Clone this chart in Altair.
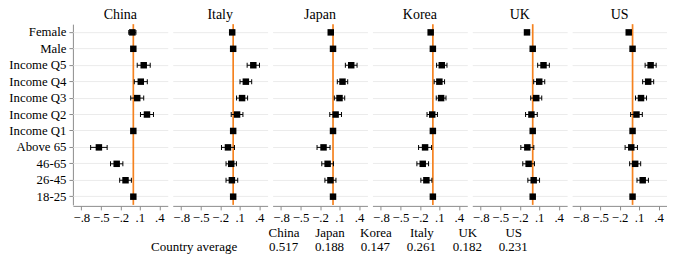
import altair as alt
import pandas as pd

categories = ["Female", "Male", "Income Q5", "Income Q4", "Income Q3", "Income Q2",
              "Income Q1", "Above 65", "46-65", "26-45", "18-25"]
countries = ["China", "Italy", "Japan", "Korea", "UK", "US"]

coef = {
    "China": [-0.015, 0, 0.16, 0.115, 0.06, 0.21, 0, -0.53, -0.256, -0.12, 0],
    "Italy": [-0.015, 0, 0.31, 0.195, 0.137, 0.06, 0, -0.08, -0.03, -0.02, 0],
    "Japan": [-0.035, 0, 0.28, 0.146, 0.10, 0.04, 0, -0.146, -0.083, -0.04, 0],
    "Korea": [-0.034, 0, 0.137, 0.10, 0.127, -0.01, 0, -0.12, -0.156, -0.10, 0],
    "UK":    [-0.088, 0, 0.166, 0.10, 0.054, -0.02, 0, -0.083, -0.063, 0.015, 0],
    "US":    [-0.059, 0, 0.278, 0.24, 0.13, 0.06, 0, -0.02, 0.04, 0.156, 0],
}
halfwidth = {
    "China": [0.055, 0, 0.10, 0.10, 0.10, 0.10, 0, 0.127, 0.095, 0.09, 0],
    "Italy": [0.03, 0, 0.095, 0.09, 0.085, 0.09, 0, 0.10, 0.08, 0.09, 0],
    "Japan": [0.03, 0, 0.09, 0.08, 0.08, 0.09, 0, 0.10, 0.09, 0.085, 0],
    "Korea": [0.03, 0, 0.08, 0.08, 0.075, 0.08, 0, 0.10, 0.09, 0.085, 0],
    "UK":    [0.03, 0, 0.09, 0.085, 0.085, 0.09, 0, 0.10, 0.09, 0.09, 0],
    "US":    [0.03, 0, 0.085, 0.085, 0.085, 0.09, 0, 0.095, 0.085, 0.088, 0],
}
x_ticks = [-0.8, -0.5, -0.2, 0.1, 0.4]

avg_countries = ["China", "Japan", "Korea", "Italy", "UK", "US"]
avg_values = ["0.517", "0.188", "0.147", "0.261", "0.182", "0.231"]
avg_label = "Country average"

rows = []
for c in countries:
    for cat, b, h in zip(categories, coef[c], halfwidth[c]):
        rows.append({"country": c, "cat": cat, "coef": b, "lo": b - h, "hi": b + h, "hw": h})
df = pd.DataFrame(rows)

FONT = "Liberation Serif"
ORANGE = "#f5821f"
PW = 95

xscale = alt.Scale(domain=[-0.93, 0.53], nice=False, zero=False)
xaxis = alt.Axis(values=x_ticks, title=None,
                 labelExpr="replace(format(datum.value, '.1f'), '0.', '.')",
                 tickSize=4, labelPadding=2)
yenc = alt.Y("cat:N", sort=categories, title=None,
             axis=alt.Axis(tickSize=4, labelPadding=3, grid=True))

zero_rule = alt.Chart().mark_rule(color=ORANGE, strokeWidth=1.7).encode(
    x=alt.datum(0, scale=xscale, axis=xaxis)
).transform_filter(alt.datum.cat == "Male")

err = alt.Chart().mark_rule(color="black", strokeWidth=1).encode(
    x=alt.X("lo:Q", scale=xscale, axis=xaxis), x2="hi:Q", y=yenc
).transform_filter(alt.datum.hw > 0)

cap_lo = alt.Chart().mark_tick(color="black", thickness=1, size=5, opacity=1).encode(
    x=alt.X("lo:Q", scale=xscale, axis=xaxis), y=yenc
).transform_filter(alt.datum.hw > 0)

cap_hi = alt.Chart().mark_tick(color="black", thickness=1, size=5, opacity=1).encode(
    x=alt.X("hi:Q", scale=xscale, axis=xaxis), y=yenc
).transform_filter(alt.datum.hw > 0)

pts = alt.Chart().mark_square(color="black", size=42, opacity=1).encode(
    x=alt.X("coef:Q", scale=xscale, axis=xaxis), y=yenc
)

panels = alt.layer(zero_rule, err, cap_lo, cap_hi, pts, data=df).properties(
    width=PW, height=181
).facet(
    column=alt.Column("country:N", sort=countries,
                      header=alt.Header(title=None, labelFont=FONT, labelFontSize=14,
                                        labelColor="black", labelPadding=1)),
    spacing=5,
)

tdf = pd.DataFrame({"country": avg_countries, "value": avg_values,
                    "row": [avg_label] * len(avg_countries)})

table = alt.Chart(tdf).mark_text(font=FONT, fontSize=13, color="black").encode(
    x=alt.X("country:N", sort=avg_countries, title=None,
            scale=alt.Scale(range=[188, 464], paddingOuter=0, paddingInner=0),
            axis=alt.Axis(orient="top", ticks=False, domain=False, grid=False,
                          labelAngle=0, labelPadding=0, labelFontSize=13)),
    y=alt.Y("row:N", title=None,
            axis=alt.Axis(ticks=False, domain=False, grid=False, offset=-168,
                          labelPadding=4, labelFontSize=13)),
    text="value:N",
).properties(width=464, height=14)

chart = alt.vconcat(panels, table, spacing=2).properties(
    padding=0
).configure_view(stroke=None).configure_axis(
    labelFont=FONT, labelFontSize=12.8, labelColor="black",
    gridColor="#ebebeb", domainColor="#8c8c8c", tickColor="#8c8c8c",
).configure_text(font=FONT)

chart.save("out.html", embed_options={"renderer": "svg", "actions": False})
